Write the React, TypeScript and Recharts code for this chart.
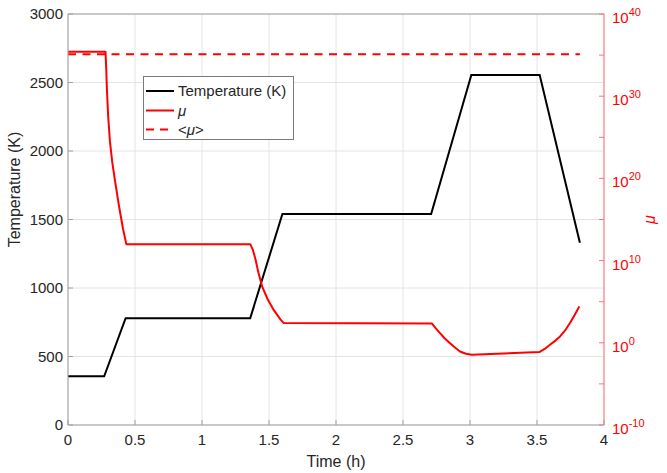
import React from 'react';
import {
    LineChart,
    Line,
    XAxis,
    YAxis,
    CartesianGrid,
    ReferenceLine,
    Legend
} from 'recharts';

// Temperature profile (K) vs time (h)
const tempTime = [0, 0.27, 0.43, 1.36, 1.6, 2.71, 3.01, 3.52, 3.82];
const tempK = [355, 355, 780, 780, 1540, 1540, 2555, 2555, 1330];

// mu, stored as log10 values (right axis is logarithmic)
const muTime = [
    0, 0.28, 0.285, 0.29, 0.3, 0.313, 0.33, 0.35, 0.38, 0.41, 0.435,
    1.36, 1.38, 1.4, 1.42, 1.45, 1.49, 1.535, 1.585, 1.61,
    2.715, 2.745, 2.776, 2.81, 2.851, 2.89, 2.925, 2.97, 3.013,
    3.517, 3.557, 3.597, 3.64, 3.672, 3.71, 3.746, 3.78, 3.816
];
const muLog10 = [
    35.4, 35.4, 33.5, 31.0, 27.5, 24.5, 22.0, 19.8, 16.7, 13.9, 12.0,
    12.0, 11.3, 10.1, 8.6, 6.8, 5.3, 4.0, 2.85, 2.4,
    2.35, 1.75, 1.18, 0.55, -0.04, -0.6, -1.06, -1.33, -1.46,
    -1.13, -0.75, -0.24, 0.3, 0.77, 1.5, 2.4, 3.35, 4.43
];

// <mu>
const meanTime = [0, 3.82];
const meanMuLog10 = [35.1, 35.1];

const timeTicks = [0, 0.5, 1, 1.5, 2, 2.5, 3, 3.5, 4];
const tempTicks = [0, 500, 1000, 1500, 2000, 2500, 3000];
const muTicks = [-10, -5, 0, 5, 10, 15, 20, 25, 30, 35, 40];

const FONT = '"Liberation Sans", Arial, Helvetica, sans-serif';
const TEXT = '#262626';
const AXIS = '#a0a0a0';
const RED = '#ff0000';
const RED_AXIS = '#ff7070';

const tempData = tempTime.map((t, i) => ({ t, temp: tempK[i] }));
const muData = muTime.map((t, i) => ({ t, mu: muLog10[i] }));
const meanData = meanTime.map((t, i) => ({ t, mean: meanMuLog10[i] }));

const LeftTick = (props: any) => {
    const { x, y, payload } = props;
    return (
        <g>
            <line x1={x + 5} x2={x + 10} y1={y} y2={y} stroke={AXIS} />
            <text x={x} y={y} dy="0.35em" textAnchor="end" fontSize={15} fontFamily={FONT} fill={TEXT}>
                {payload.value}
            </text>
        </g>
    );
};

const BottomTick = (props: any) => {
    const { x, y, payload } = props;
    return (
        <g>
            <line x1={x} x2={x} y1={y - 9} y2={y - 14} stroke={AXIS} />
            <text x={x} y={y} dy="0.71em" textAnchor="middle" fontSize={15} fontFamily={FONT} fill={TEXT}>
                {payload.value}
            </text>
        </g>
    );
};

const RightTick = (props: any) => {
    const { x, y, payload } = props;
    const v = payload.value;
    return (
        <g>
            <line x1={x - 8} x2={x - 13} y1={y} y2={y} stroke={RED_AXIS} />
            {v % 10 === 0 && (
                <text x={x} y={y + 9} fontSize={15} fontFamily={FONT} fill={RED}>
                    10
                    <tspan dy={-7} fontSize={11}>{v}</tspan>
                </text>
            )}
        </g>
    );
};

const legendItems = [
    { key: 'temp', color: '#000000', dash: undefined as string | undefined },
    { key: 'mu', color: RED, dash: undefined as string | undefined },
    { key: 'mean', color: RED, dash: '8 6' }
];

const LegendBox = () => (
    <svg width={151} height={64}>
        <rect x={0.5} y={0.5} width={150} height={63} fill="#ffffff" stroke="#7a7a7a" />
        {legendItems.map((item, i) => {
            const y = [15, 34.5, 53.5][i];
            return (
                <g key={item.key}>
                    <line x1={3} x2={31} y1={y} y2={y} stroke={item.color} strokeWidth={2} strokeDasharray={item.dash} />
                    <text x={35} y={y} dy="0.35em" fontSize={15} fontFamily={FONT} fill={TEXT}>
                        {item.key === 'temp' && 'Temperature (K)'}
                        {item.key === 'mu' && <tspan fontStyle="italic">μ</tspan>}
                        {item.key === 'mean' && (
                            <>
                                <tspan>&lt;</tspan>
                                <tspan fontStyle="italic">μ</tspan>
                                <tspan>&gt;</tspan>
                            </>
                        )}
                    </text>
                </g>
            );
        })}
    </svg>
);

export default function App() {
    return (
        <div style={{ position: 'absolute', left: 0, top: 0, width: 667, height: 473, background: '#fff' }}>
            <LineChart width={667} height={473} margin={{ top: 14, right: 13, bottom: 0, left: 8 }}>
                <CartesianGrid yAxisId="temp" stroke="#e4e4e4" />
                <XAxis
                    type="number"
                    dataKey="t"
                    domain={[0, 4]}
                    ticks={timeTicks}
                    height={48}
                    tickSize={0}
                    tickMargin={9}
                    tick={<BottomTick />}
                    axisLine={{ stroke: AXIS }}
                    allowDuplicatedCategory={false}
                    label={{
                        value: 'Time (h)',
                        position: 'insideBottom',
                        offset: 6,
                        fontSize: 16,
                        fontFamily: FONT,
                        fill: TEXT
                    }}
                />
                <YAxis
                    yAxisId="temp"
                    domain={[0, 3000]}
                    ticks={tempTicks}
                    width={60}
                    tickSize={0}
                    tickMargin={5}
                    tick={<LeftTick />}
                    axisLine={{ stroke: AXIS }}
                    label={{
                        value: 'Temperature (K)',
                        angle: -90,
                        position: 'center',
                        dx: -24,
                        dy: -30,
                        fontSize: 16,
                        fontFamily: FONT,
                        fill: TEXT
                    }}
                />
                <YAxis
                    yAxisId="mu"
                    orientation="right"
                    domain={[-10, 40]}
                    ticks={muTicks}
                    width={50}
                    tickSize={0}
                    tickMargin={8}
                    tick={<RightTick />}
                    axisLine={{ stroke: RED_AXIS }}
                    label={{
                        value: 'μ',
                        angle: -90,
                        position: 'center',
                        dx: 20,
                        fontSize: 16,
                        fontStyle: 'italic',
                        fontFamily: FONT,
                        fill: RED
                    }}
                />
                <ReferenceLine yAxisId="temp" y={3000} stroke={AXIS} />
                <Line
                    yAxisId="temp"
                    data={tempData}
                    dataKey="temp"
                    type="linear"
                    stroke="#000000"
                    strokeWidth={2}
                    dot={false}
                    isAnimationActive={false}
                />
                <Line
                    yAxisId="mu"
                    data={muData}
                    dataKey="mu"
                    type="linear"
                    stroke={RED}
                    strokeWidth={2}
                    strokeLinejoin="round"
                    dot={false}
                    isAnimationActive={false}
                />
                <Line
                    yAxisId="mu"
                    data={meanData}
                    dataKey="mean"
                    type="linear"
                    stroke={RED}
                    strokeWidth={2}
                    strokeDasharray="8 6.5"
                    dot={false}
                    isAnimationActive={false}
                />
                <Legend
                    layout="vertical"
                    align="center"
                    verticalAlign="middle"
                    content={() => <LegendBox />}
                    wrapperStyle={{ position: 'absolute', left: 143, top: 76, width: 151, height: 64 }}
                />
            </LineChart>
        </div>
    );
}
